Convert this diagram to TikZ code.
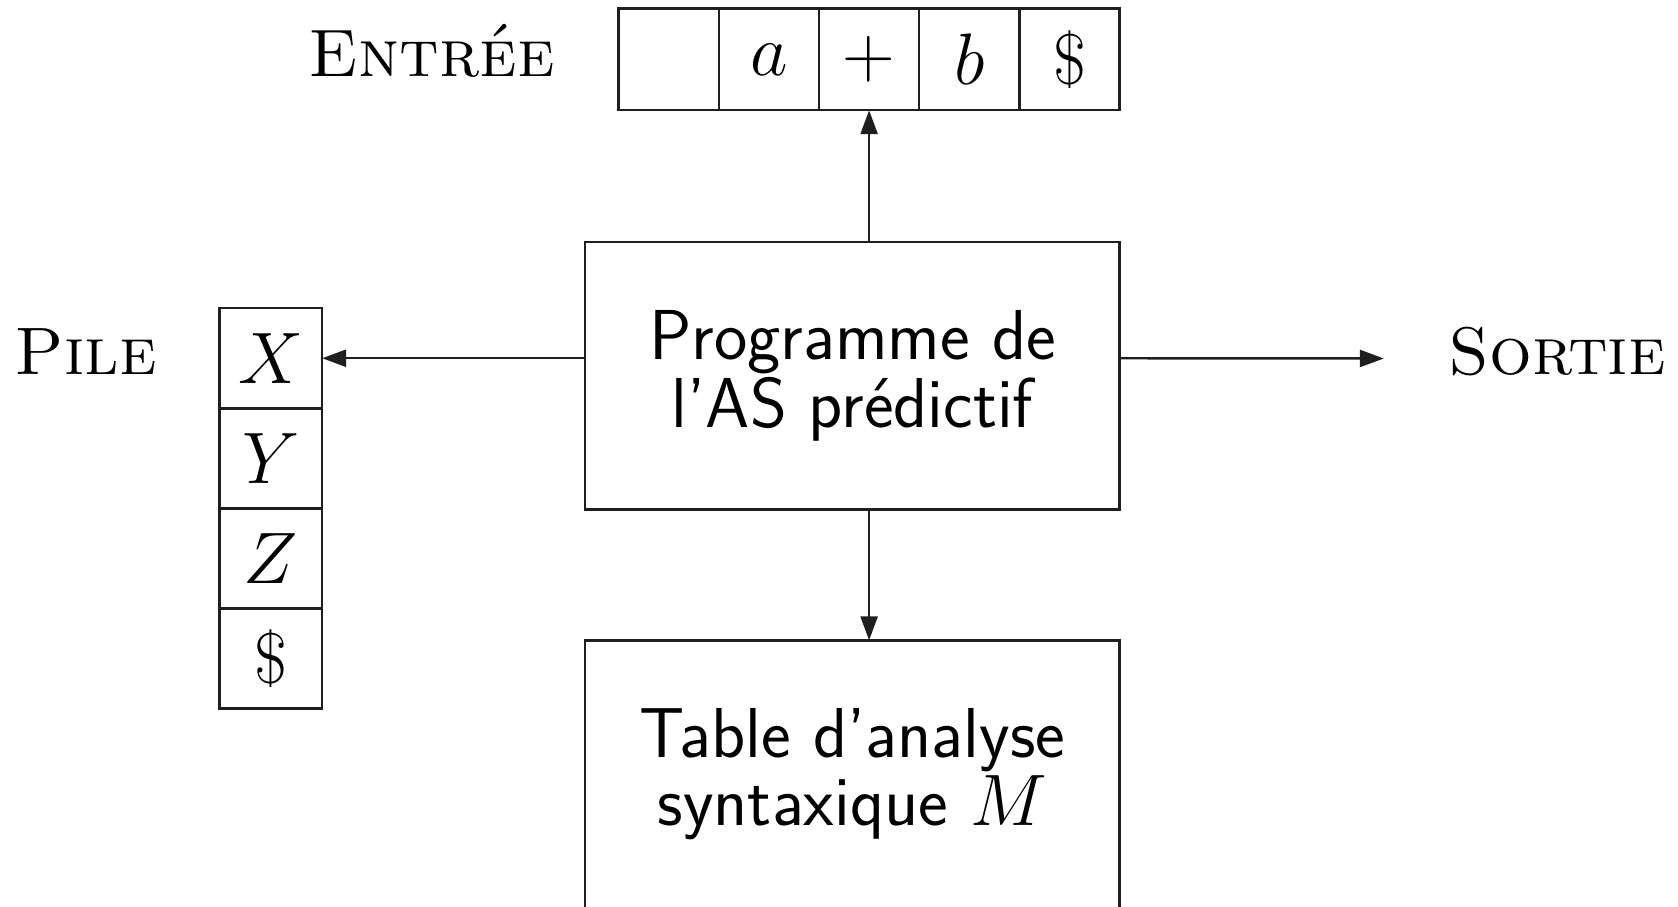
\documentclass[tikz,border=0pt]{standalone}
\usetikzlibrary{arrows.meta}

\newcommand\blockfont{\fontsize{20.1}{17.8}\selectfont\sffamily}
\newcommand\tightlines{\setlength{\lineskiplimit}{-100pt}}

\tikzset{
  base/.style={line width=0.7pt, draw=black!88},
  cell/.style={base, draw, inner sep=0pt, outer sep=0pt,
    minimum width=1.0cm, minimum height=1.0cm,
    font=\fontsize{20.4}{22}\selectfont},
  block/.style={base, draw, inner sep=0pt, outer sep=0pt, align=center,
    minimum width=5.34cm, minimum height=2.675cm, font=\blockfont},
  label/.style={inner sep=0pt, font=\fontsize{19.1}{21}\selectfont\scshape},
  flow/.style={base, -{Triangle[length=0.24cm,width=0.17cm]}}
}

\begin{document}
\begin{tikzpicture}[x=0.01cm, y=-0.01cm]
  \useasboundingbox (0,0) rectangle (1678,907);
  \clip (0,0) rectangle (1678,907);

  % input tape
  \foreach \i/\s in {1/{}, 2/$a$, 3/$+$, 4/$b$, 5/\$} {
    \node[cell, minimum width=1.002cm, minimum height=1.016cm]
      (e\i) at ({618.6+50.1+100.2*(\i-1)}, 59.4) {\s};
  }
  \node[label] (entree) at (431.8, 51) {Entrée};

  % stack
  \foreach \i/\s in {1/$X$, 2/$Y$, 3/$Z$, 4/\$} {
    \node[cell, minimum width=1.027cm, minimum height=1.001cm]
      (s\i) at (270.75, {358.25+100.1*(\i-1)}) {\s};
  }
  \node[label] (pile) at (85.6, 352) {Pile};

  % parser program and parsing table
  \node[block] (prog) at (852.4, 375.6) {\tightlines Programme de\\l'AS prédictif};
  \node[block] (table) at (852.4, 774.2) {\tightlines Table d'analyse\\syntaxique $M$};

  % output
  \coordinate (out) at (1383.8, 358.5);
  \node[label] (sortie) at (1557, 352) {Sortie};

  % connectors
  \draw[flow] (prog.north -| e3.south) -- (e3.south);
  \draw[flow] (s1.east -| prog.west) -- (s1.east);
  \draw[flow] (s1.east -| prog.east) -- (out);
  \draw[flow] (prog.south -| e3.south) -- (table.north -| e3.south);
\end{tikzpicture}
\end{document}
